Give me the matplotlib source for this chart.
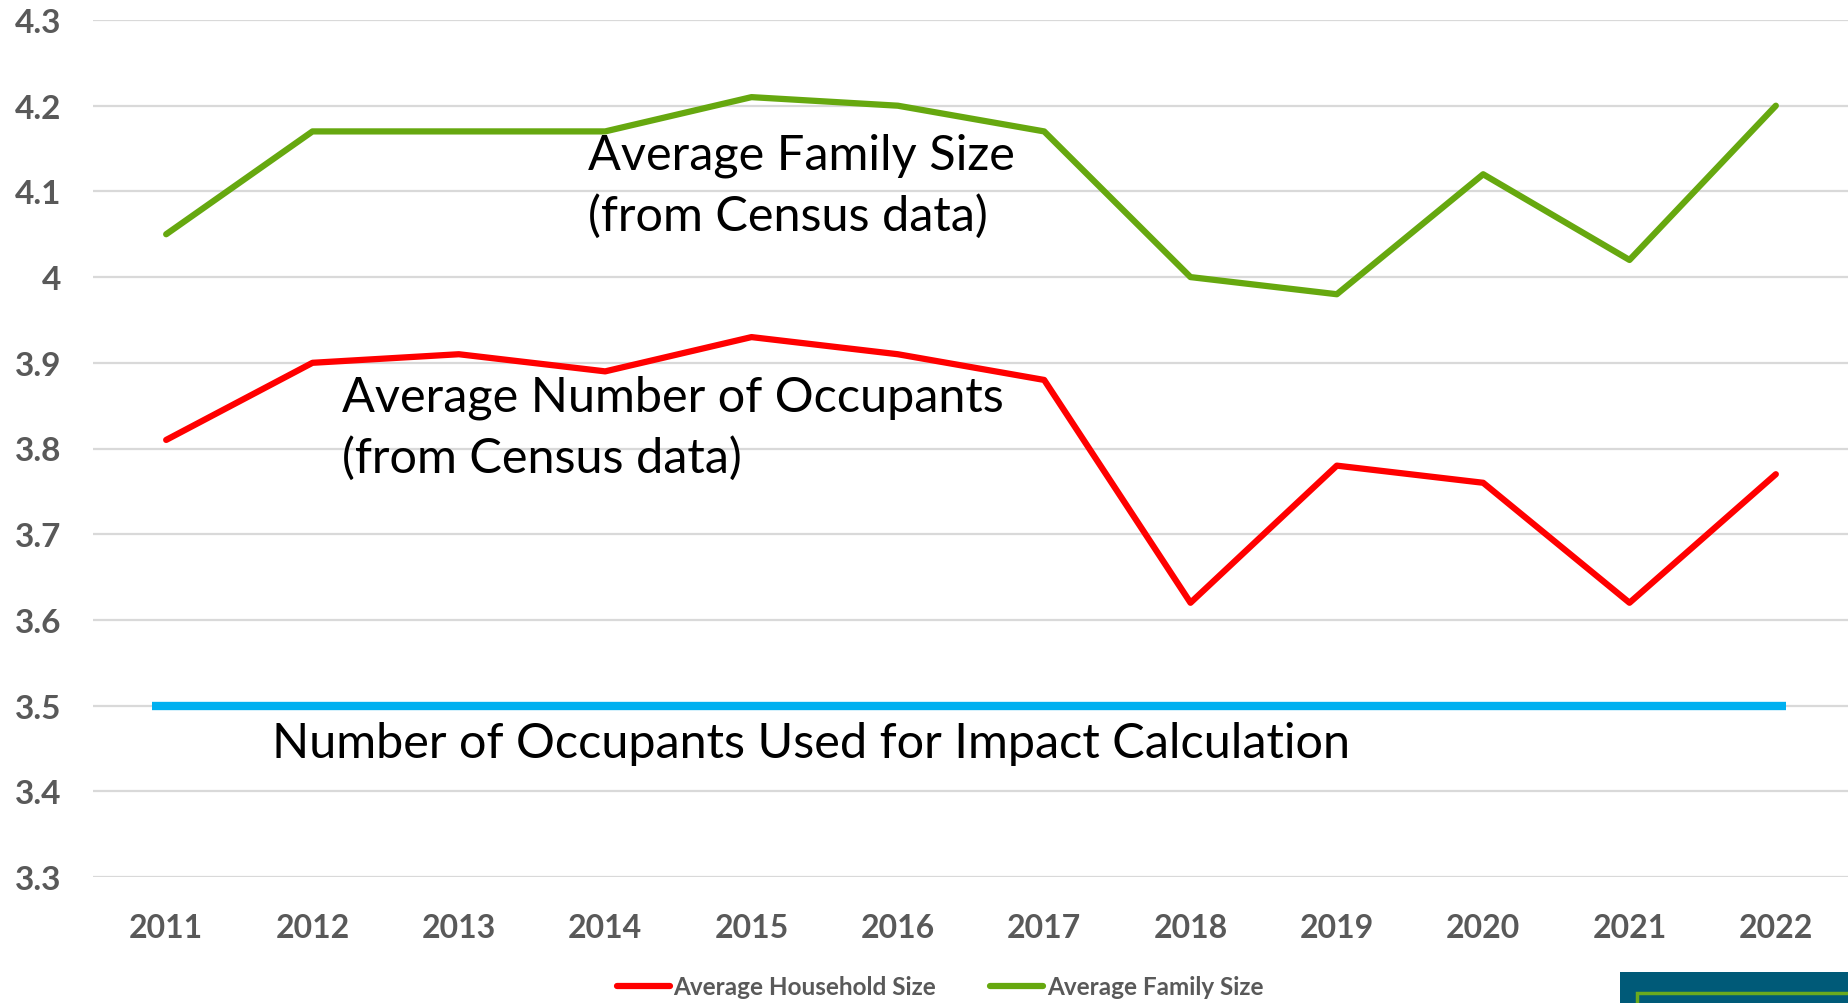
import matplotlib
matplotlib.use("Agg")
import matplotlib.pyplot as plt
from matplotlib.patches import Rectangle

years = ["2011", "2012", "2013", "2014", "2015", "2016",
         "2017", "2018", "2019", "2020", "2021", "2022"]
household = [3.81, 3.90, 3.91, 3.89, 3.93, 3.91, 3.88, 3.62, 3.78, 3.76, 3.62, 3.77]
family = [4.05, 4.17, 4.17, 4.17, 4.21, 4.20, 4.17, 4.00, 3.98, 4.12, 4.02, 4.20]
impact_occupants = 3.5
yticks = [3.3, 3.4, 3.5, 3.6, 3.7, 3.8, 3.9, 4.0, 4.1, 4.2, 4.3]
ytick_labels = ["3.3", "3.4", "3.5", "3.6", "3.7", "3.8", "3.9", "4", "4.1", "4.2", "4.3"]

plt.rcParams['font.family'] = ['Lato', 'DejaVu Sans']

fig = plt.figure(figsize=(18.49, 10.04), dpi=100)
ax = fig.add_axes([93 / 1849, 1 - 878 / 1004, 1 - 93 / 1849, (878 - 21) / 1004])

x = list(range(len(years)))
ax.plot(x, household, color="#FF0000", lw=4.5, solid_capstyle="round", label="Average Household Size", zorder=3)
ax.plot(x, family, color="#66A80F", lw=4.5, solid_capstyle="round", label="Average Family Size", zorder=3)
ax.plot([-0.1, 11.07], [impact_occupants, impact_occupants], color="#00B0F0", lw=6,
        solid_capstyle="butt", zorder=3)

ax.set_xlim(-0.5, 11.5)
ax.set_ylim(3.3, 4.3)
ax.set_yticks(yticks)
ax.set_yticklabels(ytick_labels)
ax.set_xticks(x)
ax.set_xticklabels(years)
for s in ax.spines.values():
    s.set_visible(False)
ax.grid(axis="y", color="#D9D9D9", lw=1.6, zorder=0)
ax.tick_params(axis="both", length=0, labelcolor="#595959")
ax.tick_params(axis="y", pad=23, labelsize=24)
ax.tick_params(axis="x", pad=26, labelsize=23)
for t in ax.get_xticklabels() + ax.get_yticklabels():
    t.set_fontweight("bold")

ax.text(2.88, 4.107, "Average Family Size\n(from Census data)", fontsize=35,
        va="center", ha="left", linespacing=1.45, color="black")
ax.text(1.2, 3.825, "Average Number of Occupants\n(from Census data)", fontsize=35,
        va="center", ha="left", linespacing=1.45, color="black")
ax.text(0.72, 3.456, "Number of Occupants Used for Impact Calculation", fontsize=35,
        va="center", ha="left", color="black")

leg = fig.legend(loc="center", bbox_to_anchor=(940 / 1849, 1 - 988 / 1004), ncol=2,
                 frameon=False, handlelength=2.2, handletextpad=0.15, columnspacing=2.2,
                 prop={"size": 17.5, "weight": "bold"})
for t in leg.get_texts():
    t.set_color("#595959")

fig.patches.append(Rectangle((1620 / 1849, 0), 1, 31 / 1004, transform=fig.transFigure,
                             facecolor="#005A78", edgecolor="none"))
fig.patches.append(Rectangle((1637 / 1849, -0.01), 1, 0.01 + 10 / 1004, transform=fig.transFigure,
                             facecolor="none", edgecolor="#6AAA1E", lw=2.5))

fig.savefig("out.png", dpi=100)
